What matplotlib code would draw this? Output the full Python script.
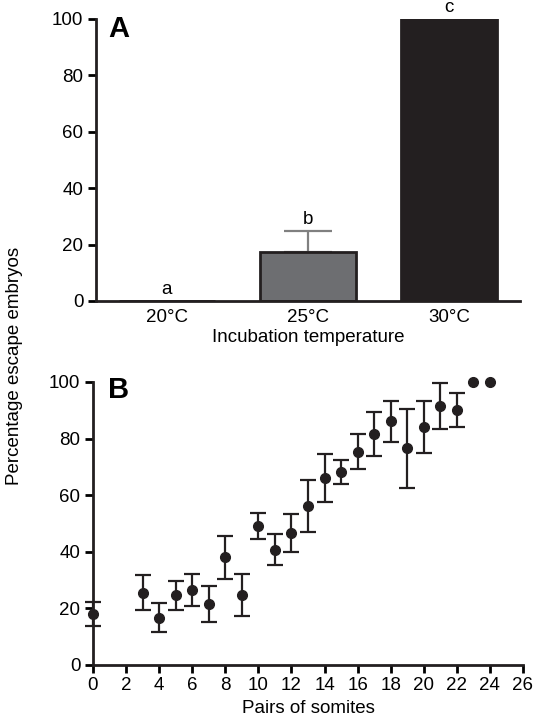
import numpy as np
import matplotlib
matplotlib.use("Agg")
import matplotlib.pyplot as plt

plt.rcParams["font.family"] = ["Liberation Sans", "DejaVu Sans"]

# ---- data: panel A (bars) ----
temps = ["20°C", "25°C", "30°C"]
escape_pct = [0.0, 17.3, 100.0]
escape_err = [0.0, 7.5, 0.0]
sig_letters = ["a", "b", "c"]
bar_colors = ["white", "#6d6e71", "#231f20"]

# ---- data: panel B (points with error bars) ----
somites = [0, 3, 4, 5, 6, 7, 8, 9, 10, 11, 12, 13, 14, 15, 16, 17, 18, 19, 20, 21, 22]
somite_pct = [18.0, 25.6, 16.7, 24.6, 26.4, 21.6, 38.0, 24.7, 49.1, 40.8, 46.6,
              56.2, 66.0, 68.1, 75.3, 81.6, 86.1, 76.5, 84.1, 91.5, 90.0]
somite_err = [4.2, 6.3, 5.1, 5.0, 5.7, 6.3, 7.5, 7.5, 4.5, 5.5, 6.8,
              9.3, 8.5, 4.3, 6.2, 7.7, 7.2, 14.1, 9.1, 8.2, 6.0]
full_x = [23, 24]
full_pct = [100.0, 100.0]

fig = plt.figure(figsize=(5.41, 7.27), dpi=100)

fs = 13.5
spine_lw = 2.0

# ---- Panel A ----
axA = fig.add_axes([0.1774, 0.586, 0.7837, 0.388])
x = np.arange(len(temps))
axA.bar(x, escape_pct, width=0.68, color=bar_colors, edgecolor="#231f20",
        linewidth=2.0, zorder=2)
axA.errorbar(x[1], escape_pct[1], yerr=[[0], [escape_err[1]]], fmt="none",
             ecolor="#808080", elinewidth=1.6, capsize=17, capthick=1.6, zorder=1)
for xi, v, e, lab in zip(x, escape_pct, escape_err, sig_letters):
    axA.text(xi, v + e + 1.0, lab, ha="center", va="bottom", fontsize=fs)
axA.set_xlim(-0.5, 2.5)
axA.set_ylim(0, 100)
axA.set_yticks([0, 20, 40, 60, 80, 100])
axA.set_xticks(x)
axA.set_xticklabels(temps)
axA.set_xlabel("Incubation temperature", fontsize=fs, labelpad=2)
axA.tick_params(axis="x", length=0, pad=6, labelsize=fs)
axA.tick_params(axis="y", direction="out", length=6, width=spine_lw, labelsize=fs, pad=3)
for side in ["top", "right"]:
    axA.spines[side].set_visible(False)
for side in ["left", "bottom"]:
    axA.spines[side].set_linewidth(spine_lw)
    axA.spines[side].set_color("#231f20")
axA.text(0.028, 1.015, "A", transform=axA.transAxes, fontsize=21,
         fontweight="bold", va="top", ha="left")

# ---- Panel B ----
axB = fig.add_axes([0.1719, 0.0853, 0.7948, 0.3893])
axB.errorbar(somites, somite_pct, yerr=somite_err, fmt="o", color="#231f20",
             markersize=7, elinewidth=1.6, capsize=6, capthick=1.6, clip_on=False, zorder=3)
axB.plot(full_x, full_pct, "o", color="#231f20", markersize=7, clip_on=False, zorder=3)
axB.set_xlim(0, 26)
axB.set_ylim(0, 100)
axB.set_xticks(np.arange(0, 27, 2))
axB.set_yticks([0, 20, 40, 60, 80, 100])
axB.set_xlabel("Pairs of somites", fontsize=fs, labelpad=4)
axB.tick_params(direction="out", length=6, width=spine_lw, labelsize=fs, pad=3)
for side in ["top", "right"]:
    axB.spines[side].set_visible(False)
for side in ["left", "bottom"]:
    axB.spines[side].set_linewidth(spine_lw)
    axB.spines[side].set_color("#231f20")
axB.text(0.035, 1.02, "B", transform=axB.transAxes, fontsize=21,
         fontweight="bold", va="top", ha="left")

fig.text(0.027, 0.497, "Percentage escape embryos", rotation=90,
         va="center", ha="center", fontsize=fs)

fig.savefig("out.png", dpi=100)
